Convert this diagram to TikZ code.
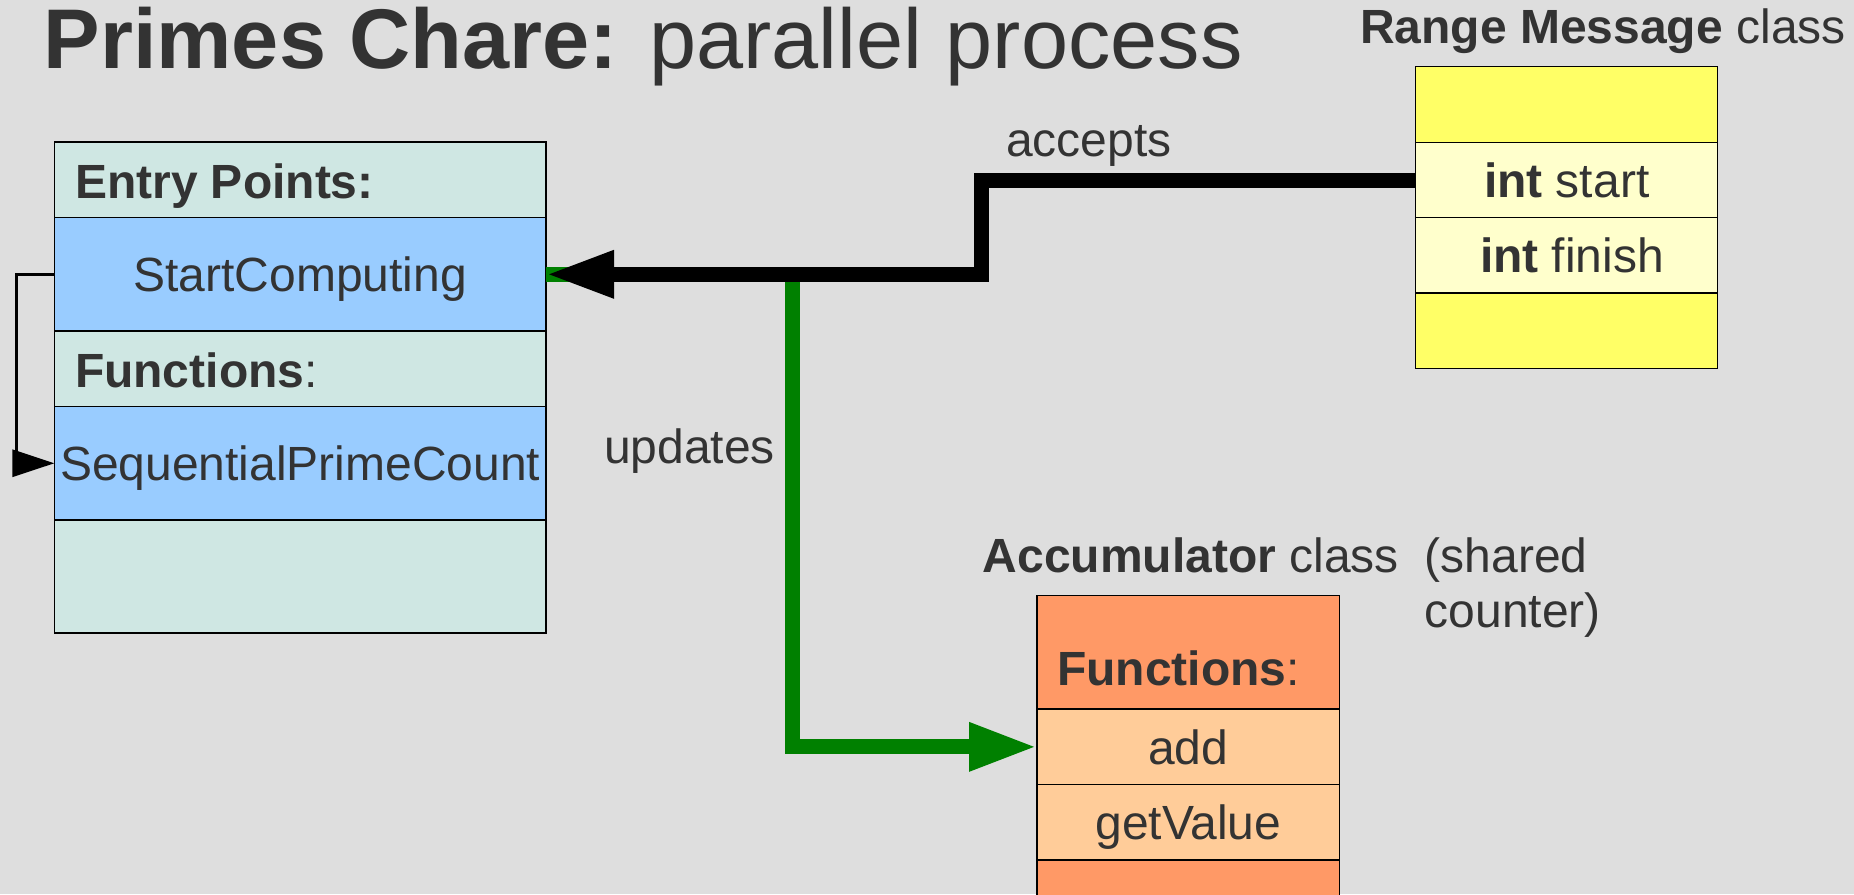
\documentclass[tikz,border=0pt]{standalone}
\usepackage{fontspec}
\setmainfont{Liberation Sans}
\usetikzlibrary{arrows.meta}
\definecolor{bgc}{HTML}{DEDEDE}
\definecolor{txtc}{HTML}{333333}
\definecolor{teal}{HTML}{CFE7E3}
\definecolor{bluec}{HTML}{99CCFF}
\definecolor{yel}{HTML}{FFFF66}
\definecolor{yell}{HTML}{FFFFCC}
\definecolor{ora}{HTML}{FF9966}
\definecolor{oral}{HTML}{FFCC99}
\definecolor{grn}{HTML}{008000}
\tikzset{
  rowbox/.style={draw=black, line width=1.5pt, inner sep=0pt, outer sep=0pt},
  txt/.style={font=\fontsize{48}{56}\selectfont, text=txtc, inner sep=0pt},
  thickblack/.style={draw=black, line width=15pt, line join=miter, -{Triangle[length=68pt,width=44pt]}},
  thickgreen/.style={draw=grn, line width=15pt, line join=miter, -{Triangle[length=68pt,width=45pt]}},
  thinloop/.style={draw=black, line width=3pt, line join=miter, -{Triangle[length=42pt,width=27pt]}}
}
\begin{document}
\begin{tikzpicture}[x=1pt,y=-1pt]
\useasboundingbox (0,0) rectangle (1854,894);
\fill[bgc] (0,0) rectangle (1854,894);

% title
\node[anchor=base west, font=\fontsize{84.7}{96}\selectfont, text=txtc, inner sep=0pt] (title) at (43.5,68.5) {\bfseries Primes Chare: \mdseries parallel process};

% left chare box
\node[rowbox, fill=teal, minimum width=491.6pt, minimum height=75.6pt] (lb1) at (300.2,179.8) {};
\node[rowbox, fill=bluec, minimum width=491.6pt, minimum height=113.4pt] (lb2) at (300.2,274.3) {};
\node[rowbox, fill=teal, minimum width=491.6pt, minimum height=75.5pt] (lb3) at (300.2,368.75) {};
\node[rowbox, fill=bluec, minimum width=491.6pt, minimum height=113.5pt] (lb4) at (300.2,463.25) {};
\node[rowbox, fill=teal, minimum width=491.6pt, minimum height=113pt] (lb5) at (300.2,576.5) {};

\node[txt, anchor=base west] (entry) at (74.8,198.3) {\bfseries Entry Points:};
\node[txt, anchor=base] (sctext) at (300.2,291.7) {StartComputing};
\node[txt, anchor=base west] (funcs) at (74.8,387.3) {\bfseries Functions\mdseries:};
\node[txt, anchor=base] (spctext) at (300.2,480.6) {SequentialPrimeCount};

% range message box
\node[txt, anchor=base west] (rmtitle) at (1360,43) {\bfseries Range Message \mdseries class};
\node[rowbox, fill=yel, minimum width=301.9pt, minimum height=75.6pt] (y1) at (1566.65,104.5) {};
\node[rowbox, fill=yell, minimum width=301.9pt, minimum height=75.4pt] (y2) at (1566.65,180) {};
\node[rowbox, fill=yell, minimum width=301.9pt, minimum height=75.3pt] (y3) at (1566.65,255.35) {};
\node[rowbox, fill=yel, minimum width=301.9pt, minimum height=75.7pt] (y4) at (1566.65,330.85) {};
\node[txt, anchor=base] (istart) at (1566.65,197.4) {\bfseries int \mdseries start};
\node[txt, anchor=base] (ifinish) at (1572,272.7) {\bfseries int \mdseries finish};

% accumulator box
\node[txt, anchor=base west] (acctitle) at (982.5,572.7) {\bfseries Accumulator \mdseries class};
\node[txt, anchor=base west] (shared1) at (1424.5,572.7) {(shared};
\node[txt, anchor=base west] (shared2) at (1424.5,627.3) {counter)};
\node[rowbox, fill=ora, minimum width=302.6pt, minimum height=113.3pt] (a1) at (1188.3,652.35) {};
\node[rowbox, fill=oral, minimum width=302.6pt, minimum height=75.7pt] (a2) at (1188.3,746.85) {};
\node[rowbox, fill=oral, minimum width=302.6pt, minimum height=75.3pt] (a3) at (1188.3,822.35) {};
\node[rowbox, fill=ora, minimum width=302.6pt, minimum height=40pt] (a4) at (1188.3,880) {};
\node[txt, anchor=base west] (afuncs) at (1057,685.7) {\bfseries Functions\mdseries:};
\node[txt, anchor=base] (addtext) at (1188.3,764.2) {add};
\node[txt, anchor=base] (gvtext) at (1188.3,839.7) {getValue};

% connectors
\draw[thinloop] (lb2.west) -- ++(-38,0) |- (lb4.west);
\draw[thickgreen] (lb2.east) -- ++(246,0) |- (a2.west);
\draw[thickblack] (y2.west) -- ++(-434.7,0) |- (lb2.east);

% labels
\node[txt, anchor=base west] (accepts) at (1006,156.7) {accepts};
\node[txt, anchor=base west] (updates) at (604,463) {updates};
\end{tikzpicture}
\end{document}
